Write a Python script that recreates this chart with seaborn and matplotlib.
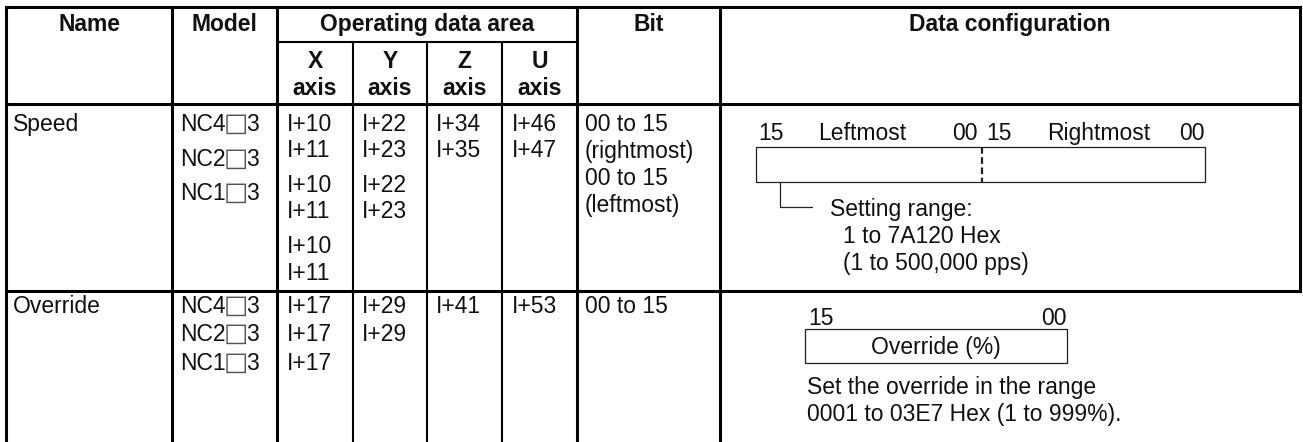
import matplotlib
matplotlib.use("Agg")
import matplotlib.pyplot as plt
import seaborn as sns

sns.set_theme(style="white")
plt.rcParams['font.family'] = ['Liberation Sans', 'DejaVu Sans']

# ---------------- table content ----------------
headers = ["Name", "Model", "Operating data area", "Bit", "Data configuration"]
axis_letters = ["X", "Y", "Z", "U"]
axis_word = "axis"

row_names = ["Speed", "Override"]
model_prefixes = ["NC4", "NC2", "NC1"]
model_box = "\u25a1"
model_suffix = "3"

speed_x = ["I+10", "I+11", "I+10", "I+11", "I+10", "I+11"]
speed_y = ["I+22", "I+23", "I+22", "I+23"]
speed_z = ["I+34", "I+35"]
speed_u = ["I+46", "I+47"]
speed_bit = ["00 to 15", "(rightmost)", "00 to 15", "(leftmost)"]

override_x = ["I+17", "I+17", "I+17"]
override_y = ["I+29", "I+29"]
override_z = ["I+41"]
override_u = ["I+53"]
override_bit = ["00 to 15"]

speed_bits_top = ["15", "Leftmost", "00", "15", "Rightmost", "00"]
speed_note = ["Setting range:", "1 to 7A120 Hex", "(1 to 500,000 pps)"]
override_bits_top = ["15", "00"]
override_box_label = "Override (%)"
override_note = ["Set the override in the range", "0001 to 03E7 Hex (1 to 999%)."]

# ---------------- layout (pixels) ----------------
W, H = 1303, 442
FS = 16.5
col_x = [6, 172, 277, 353, 427, 502, 577, 720, 1300]
top, sub_line, head_bot, row_split, bottom = 7, 42, 104, 291, 442
text_left = [13, 180, 287, 362, 436, 512, 585]

fig = plt.figure(figsize=(W / 100, H / 100), dpi=100)
ax = fig.add_axes([0, 0, 1, 1])
ax.set_xlim(0, W)
ax.set_ylim(H, 0)
ax.axis("off")
renderer = fig.canvas.get_renderer()
inv = ax.transData.inverted()

BK = "#000000"
thick = 2.2
inner = 1.5


def txt(x, y, s, ha="left", bold=False, size=FS, color="#111111", family=None):
    t = ax.text(x, y + 8.2, s, ha=ha, va="baseline", fontsize=size,
                fontweight="bold" if bold else "normal", color=color,
                family=family)
    return t


def right_edge(t):
    bb = t.get_window_extent(renderer=renderer)
    return inv.transform((bb.x1, bb.y0))[0]


def model_label(x, y, prefix):
    t1 = txt(x, y, prefix)
    x2 = right_edge(t1) - 1.5
    t2 = txt(x2, y, model_box, size=18.5, color="#555555", family=["DejaVu Sans"])
    x3 = right_edge(t2) - 2.0
    txt(x3, y, model_suffix)


# grid lines
ax.plot([col_x[0], col_x[-1]], [top, top], color=BK, lw=thick, solid_capstyle="projecting")
ax.plot([col_x[0], col_x[-1]], [head_bot, head_bot], color=BK, lw=thick)
ax.plot([col_x[0], col_x[-1]], [row_split, row_split], color=BK, lw=thick)
ax.plot([col_x[2], col_x[6]], [sub_line, sub_line], color=BK, lw=inner)
ax.plot([col_x[0], col_x[0]], [top, bottom], color=BK, lw=thick, solid_capstyle="projecting")
for i in (1, 2, 6, 7):
    ax.plot([col_x[i], col_x[i]], [top, bottom], color=BK, lw=thick)
for i in (3, 4, 5):
    ax.plot([col_x[i], col_x[i]], [sub_line, bottom], color=BK, lw=inner)
ax.plot([col_x[8], col_x[8]], [top, row_split], color=BK, lw=thick, solid_capstyle="projecting")

# headers
hdr_y = 23
txt((col_x[0] + col_x[1]) / 2, hdr_y, headers[0], ha="center", bold=True)
txt((col_x[1] + col_x[2]) / 2, hdr_y, headers[1], ha="center", bold=True)
txt((col_x[2] + col_x[6]) / 2, hdr_y, headers[2], ha="center", bold=True)
txt((col_x[6] + col_x[7]) / 2, hdr_y, headers[3], ha="center", bold=True)
txt((col_x[7] + col_x[8]) / 2, hdr_y, headers[4], ha="center", bold=True)
for i, letter in enumerate(axis_letters):
    cx = (col_x[2 + i] + col_x[3 + i]) / 2
    txt(cx, 60, letter, ha="center", bold=True)
    txt(cx, 87, axis_word, ha="center", bold=True)

# speed row
txt(text_left[0], 123, row_names[0])
for p, y in zip(model_prefixes, [123, 158, 192]):
    model_label(text_left[1], y, p)
pair_y = [123, 149, 184, 210, 245, 272]
for col, vals in zip([2, 3, 4, 5], [speed_x, speed_y, speed_z, speed_u]):
    for s, y in zip(vals, pair_y):
        txt(text_left[col], y, s)
for s, y in zip(speed_bit, [123, 150, 177, 204]):
    txt(text_left[6], y, s)

# override row
ov_y = [305, 333, 362]
txt(text_left[0], ov_y[0], row_names[1])
for p, y in zip(model_prefixes, ov_y):
    model_label(text_left[1], y, p)
for col, vals in zip([2, 3, 4, 5, 6], [override_x, override_y, override_z, override_u, override_bit]):
    for s, y in zip(vals, ov_y):
        txt(text_left[col], y, s)

# data configuration: speed
thin = 0.9
GR = "#222222"
rx0, rx1, ry0, ry1 = 756, 1205, 147, 182
ax.plot([rx0, rx1, rx1, rx0, rx0], [ry0, ry0, ry1, ry1, ry0], color=GR, lw=thin)
ax.plot([982, 982], [ry0, ry1], color=GR, lw=1.6, linestyle=(0, (3, 1.6)))
top_y = 132
txt(758, top_y, speed_bits_top[0])
txt(818, top_y, speed_bits_top[1])
txt(978, top_y, speed_bits_top[2], ha="right")
txt(986, top_y, speed_bits_top[3])
txt(1047, top_y, speed_bits_top[4])
txt(1205, top_y, speed_bits_top[5], ha="right")
ax.plot([780, 780, 812], [ry1, 207, 207], color=GR, lw=thin)
txt(830, 208, speed_note[0])
txt(843, 235, speed_note[1])
txt(843, 262, speed_note[2])

# data configuration: override
ox0, ox1, oy0, oy1 = 805, 1067, 329, 363
ax.plot([ox0, ox1, ox1, ox0, ox0], [oy0, oy0, oy1, oy1, oy0], color=GR, lw=thin)
txt(808, 317, override_bits_top[0])
txt(1067, 317, override_bits_top[1], ha="right")
txt((ox0 + ox1) / 2, 346, override_box_label, ha="center")
txt(807, 386, override_note[0])
txt(807, 413, override_note[1])

fig.savefig("out.png", dpi=100, facecolor="white")
